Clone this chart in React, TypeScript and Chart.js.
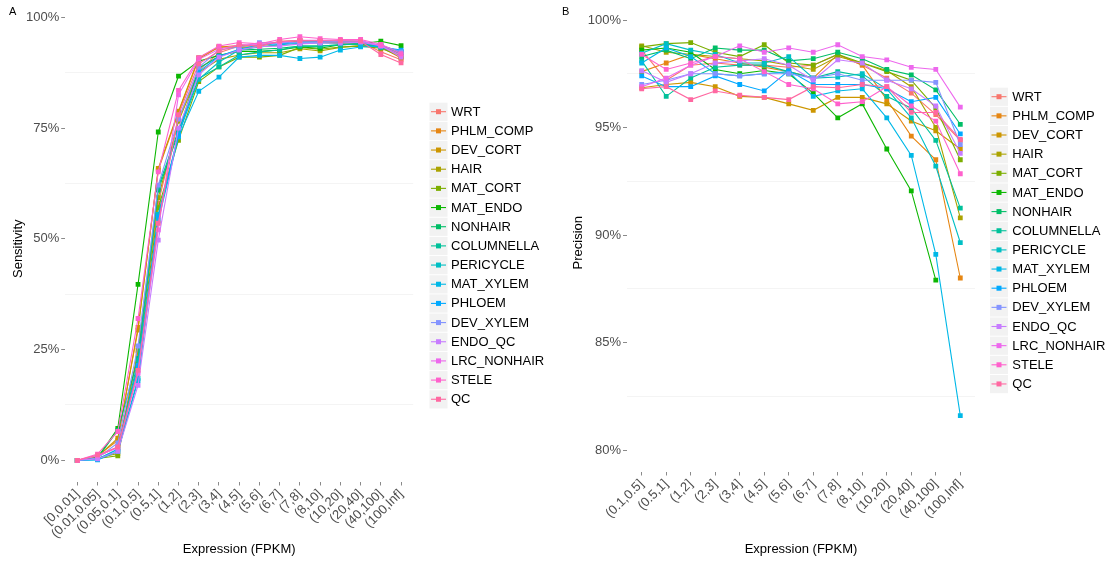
import React, { useEffect, useRef } from "react";
import { Chart, registerables } from "chart.js";

Chart.register(...registerables);

const FONT = "'Liberation Sans', Arial, Helvetica, sans-serif";

const seriesNames = ["WRT", "PHLM_COMP", "DEV_CORT", "HAIR", "MAT_CORT", "MAT_ENDO", "NONHAIR", "COLUMNELLA", "PERICYCLE", "MAT_XYLEM", "PHLOEM", "DEV_XYLEM", "ENDO_QC", "LRC_NONHAIR", "STELE", "QC"];
const seriesColors = ["#F8766D", "#E68613", "#CD9600", "#ABA300", "#7CAE00", "#0CB702", "#00BE67", "#00C19A", "#00BFC4", "#00B8E7", "#00A9FF", "#8494FF", "#C77CFF", "#ED68ED", "#FF61CC", "#FF68A1"];

// Panel A: Sensitivity
const sensCategories = ["[0,0.01]", "(0.01,0.05]", "(0.05,0.1]", "(0.1,0.5]", "(0.5,1]", "(1,2]", "(2,3]", "(3,4]", "(4,5]", "(5,6]", "(6,7]", "(7,8]", "(8,10]", "(10,20]", "(20,40]", "(40,100]", "(100,Inf]"];
const sensGrid = [0, 12.5, 25, 37.5, 50, 62.5, 75, 87.5, 100];
const sensLabeled = [0, 25, 50, 75, 100];

const sensWRT = [0, 0.8, 3.0, 24.0, 58.0, 77.0, 88.0, 92.0, 93.5, 93.8, 94.4, 94.6, 94.5, 94.4, 94.4, 92.2, 90.4];
const sensPHLM_COMP = [0, 1.0, 4.5, 30.0, 65.5, 78.5, 90.6, 93.3, 93.6, 93.5, 94.5, 94.8, 94.6, 94.3, 94.4, 93.3, 90.8];
const sensDEV_CORT = [0, 0.8, 5.0, 29.4, 65.9, 78.8, 90.9, 93.3, 93.2, 93.3, 93.8, 94.8, 94.4, 94.1, 94.2, 93.4, 91.0];
const sensHAIR = [0, 0.5, 1.5, 24.8, 59.3, 76.5, 87.5, 90.5, 91.5, 92.0, 92.0, 92.9, 92.4, 93.2, 93.6, 93.5, 91.5];
const sensMAT_CORT = [0, 0.4, 1.0, 22.0, 57.0, 72.2, 85.5, 88.8, 91.0, 91.0, 91.4, 93.2, 92.8, 93.3, 93.5, 93.0, 91.2];
const sensMAT_ENDO = [0, 0.6, 7.2, 39.7, 74.1, 86.7, 90.1, 91.4, 92.3, 92.3, 92.6, 93.3, 93.0, 93.8, 94.0, 94.6, 93.6];
const sensNONHAIR = [0, 0.5, 6.8, 23.0, 61.0, 74.0, 88.5, 91.2, 92.6, 92.8, 93.0, 93.5, 93.5, 93.8, 94.0, 93.6, 92.0];
const sensCOLUMNELLA = [0, 0.3, 2.5, 22.6, 61.7, 74.5, 86.2, 88.8, 91.5, 92.2, 92.6, 93.5, 93.5, 93.8, 93.9, 93.2, 91.7];
const sensPERICYCLE = [0, 0.2, 2.0, 18.5, 55.5, 73.5, 86.0, 89.9, 92.6, 93.3, 93.8, 94.1, 94.2, 94.2, 94.2, 93.4, 92.0];
const sensMAT_XYLEM = [0, 0.1, 2.0, 18.0, 54.0, 73.0, 83.3, 86.5, 91.0, 91.4, 91.4, 90.7, 91.0, 92.6, 93.3, 93.5, 92.3];
const sensPHLOEM = [0, 0.2, 2.5, 21.4, 55.0, 73.4, 87.7, 91.2, 92.8, 93.8, 94.0, 94.4, 94.5, 94.6, 94.6, 93.3, 92.6];
const sensDEV_XYLEM = [0, 0.5, 3.9, 25.8, 62.1, 77.0, 88.7, 92.6, 93.3, 94.3, 94.2, 94.4, 94.4, 94.6, 94.6, 93.7, 92.2];
const sensENDO_QC = [0, 0.3, 2.0, 16.9, 49.7, 75.0, 87.0, 91.0, 92.6, 93.4, 93.5, 94.0, 94.2, 94.2, 94.4, 93.6, 91.0];
const sensLRC_NONHAIR = [0, 1.0, 2.8, 19.6, 52.0, 82.5, 90.5, 92.8, 93.8, 93.8, 94.4, 94.8, 94.8, 94.8, 94.8, 93.5, 91.5];
const sensSTELE = [0, 1.4, 6.5, 32.0, 65.1, 83.5, 90.9, 93.5, 94.3, 94.0, 95.0, 95.6, 95.2, 95.0, 95.0, 93.9, 91.8];
const sensQC = [0, 1.2, 3.0, 20.3, 53.5, 78.0, 89.5, 92.4, 93.8, 93.5, 94.6, 94.7, 94.7, 94.7, 94.6, 91.6, 89.7];

// Panel B: Precision
const precCategories = ["(0.1,0.5]", "(0.5,1]", "(1,2]", "(2,3]", "(3,4]", "(4,5]", "(5,6]", "(6,7]", "(7,8]", "(8,10]", "(10,20]", "(20,40]", "(40,100]", "(100,Inf]"];
const precGrid = [80, 82.5, 85, 87.5, 90, 92.5, 95, 97.5, 100];
const precLabeled = [80, 85, 90, 95, 100];

const precWRT = [98.6, 97.2, 97.9, 98.0, 97.9, 97.9, 97.8, 97.9, 98.4, 97.9, 97.3, 96.6, 95.6, 94.4];
const precPHLM_COMP = [97.6, 98.0, 98.4, 98.2, 98.0, 97.8, 97.6, 97.3, 98.4, 97.9, 96.3, 94.6, 93.5, 88.0];
const precDEV_CORT = [96.85, 97.0, 97.1, 96.9, 96.45, 96.4, 96.1, 95.8, 96.4, 96.4, 96.1, 95.3, 94.85, 94.0];
const precHAIR = [98.8, 98.5, 98.4, 98.3, 98.2, 98.1, 97.9, 97.7, 98.3, 98.0, 97.65, 96.9, 95.0, 90.8];
const precMAT_CORT = [98.75, 98.9, 98.95, 98.5, 98.3, 98.85, 98.0, 97.9, 98.4, 98.0, 97.6, 97.2, 95.9, 93.5];
const precMAT_ENDO = [98.6, 98.7, 98.5, 97.7, 97.5, 97.65, 97.5, 96.6, 95.45, 96.1, 94.0, 92.05, 87.9, null];
const precNONHAIR = [98.3, 98.6, 98.2, 98.7, 98.6, 98.6, 98.1, 98.2, 98.5, 98.2, 97.7, 97.45, 96.75, 95.15];
const precCOLUMNELLA = [98.1, 96.45, 97.3, 97.8, 97.9, 97.9, 97.6, 97.3, 97.6, 97.4, 96.45, 95.9, 94.4, 91.25];
const precPERICYCLE = [98.45, 98.9, 98.6, 98.4, 98.0, 98.0, 98.3, 97.3, 97.35, 97.5, 96.8, 95.45, 93.2, 89.65];
const precMAT_XYLEM = [98.0, 98.7, 98.3, 97.5, 97.4, 97.5, 97.6, 96.45, 96.7, 96.8, 95.45, 93.7, 89.1, 81.6];
const precPHLOEM = [97.4, 96.9, 96.9, 97.4, 97.0, 96.7, 97.65, 97.0, 97.0, 97.0, 96.8, 96.2, 96.4, 94.7];
const precDEV_XYLEM = [97.0, 97.2, 97.5, 97.5, 97.4, 97.5, 97.5, 97.3, 97.5, 97.2, 97.2, 97.2, 97.1, 94.2];
const precENDO_QC = [97.65, 97.1, 97.5, 98.0, 98.1, 98.2, 97.9, 97.2, 98.15, 98.0, 97.2, 96.8, 96.0, 93.8];
const precLRC_NONHAIR = [96.9, 97.3, 97.9, 98.3, 98.8, 98.5, 98.7, 98.5, 98.85, 98.3, 98.15, 97.8, 97.7, 95.95];
const precSTELE = [98.4, 97.7, 98.0, 98.3, 98.2, 97.6, 97.0, 96.8, 96.1, 96.2, 96.9, 96.0, 95.3, 92.85];
const precQC = [96.8, 96.9, 96.3, 96.7, 96.5, 96.4, 96.3, 96.9, 96.85, 97.0, 96.9, 95.7, 95.7, 94.45];

const sensSeries = [sensWRT, sensPHLM_COMP, sensDEV_CORT, sensHAIR, sensMAT_CORT, sensMAT_ENDO, sensNONHAIR, sensCOLUMNELLA, sensPERICYCLE, sensMAT_XYLEM, sensPHLOEM, sensDEV_XYLEM, sensENDO_QC, sensLRC_NONHAIR, sensSTELE, sensQC];
const precSeries = [precWRT, precPHLM_COMP, precDEV_CORT, precHAIR, precMAT_CORT, precMAT_ENDO, precNONHAIR, precCOLUMNELLA, precPERICYCLE, precMAT_XYLEM, precPHLOEM, precDEV_XYLEM, precENDO_QC, precLRC_NONHAIR, precSTELE, precQC];

const ggLegend = {
  id: "ggLegend",
  afterDraw(chart: any, _args: any, opts: any) {
    const ctx = chart.ctx;
    ctx.save();
    const n = chart.data.datasets.length;
    for (let i = 0; i < n; i++) {
      const ds = chart.data.datasets[i];
      const cy = opts.firstY + i * opts.step;
      ctx.fillStyle = "#f2f2f2";
      ctx.fillRect(opts.keyX - 9, cy - 9, 18, 18.2);
      ctx.strokeStyle = ds.borderColor;
      ctx.lineWidth = 1.1;
      ctx.beginPath();
      ctx.moveTo(opts.keyX - 7.5, cy);
      ctx.lineTo(opts.keyX + 7.5, cy);
      ctx.stroke();
      ctx.fillStyle = ds.borderColor;
      ctx.fillRect(opts.keyX - 2.5, cy - 2.5, 5, 5);
      ctx.fillStyle = "#000";
      ctx.font = "13px " + FONT;
      ctx.textAlign = "left";
      ctx.textBaseline = "middle";
      ctx.fillText(ds.label, opts.textX, cy + 0.5);
    }
    ctx.font = "11px " + FONT;
    ctx.fillStyle = "#000";
    ctx.textAlign = "left";
    ctx.textBaseline = "middle";
    ctx.fillText(opts.panel, opts.panelX, opts.panelY);
    ctx.restore();
  },
};

type PanelProps = {
  width: number;
  left: number;
  categories: string[];
  series: (number | null)[][];
  grid: number[];
  labeled: number[];
  yMin: number;
  yMax: number;
  yTitle: string;
  axisWidth: number;
  padTop: number;
  padRight: number;
  xAxisHeight: number;
  legend: any;
};

function Panel(p: PanelProps) {
  const ref = useRef<HTMLCanvasElement | null>(null);
  useEffect(() => {
    if (!ref.current) return;
    const n = p.categories.length;
    const datasets = seriesNames.map((name, si) => ({
      label: name,
      data: p.series[si].map((v, i) => ({ x: i, y: v })),
      borderColor: seriesColors[si],
      backgroundColor: seriesColors[si],
      borderWidth: 1.1,
      pointStyle: "rect",
      pointRadius: 3.4,
      pointBorderWidth: 0,
      pointHoverRadius: 3.4,
      tension: 0,
      spanGaps: false,
      order: seriesNames.length - si,
    }));
    const chart = new Chart(ref.current, {
      type: "line",
      data: { datasets } as any,
      plugins: [ggLegend],
      options: {
        animation: false,
        responsive: false,
        devicePixelRatio: 1,
        events: [],
        layout: { padding: { left: 0, top: p.padTop, right: p.padRight, bottom: 0 } },
        plugins: {
          legend: { display: false },
          tooltip: { enabled: false },
          ggLegend: p.legend,
        } as any,
        scales: {
          x: {
            type: "linear",
            min: -0.6,
            max: n - 1 + 0.6,
            afterBuildTicks: (s: any) => {
              s.ticks = p.categories.map((_, i) => ({ value: i }));
            },
            afterFit: (s: any) => {
              s.height = p.xAxisHeight;
            },
            border: { display: false },
            grid: { color: "rgba(0,0,0,0)", tickColor: "#8a8a8a", tickLength: 4, lineWidth: 1 },
            ticks: {
              autoSkip: false,
              minRotation: 45,
              maxRotation: 45,
              padding: 1,
              color: "#4d4d4d",
              font: { family: FONT, size: 13 },
              callback: (v: any) => p.categories[Math.round(Number(v))] ?? "",
            },
            title: {
              display: true,
              text: "Expression (FPKM)",
              color: "#000",
              font: { family: FONT, size: 13 },
              padding: { top: 0, bottom: 6 },
            },
          },
          y: {
            type: "linear",
            min: p.yMin,
            max: p.yMax,
            afterBuildTicks: (s: any) => {
              s.ticks = p.grid.map((v) => ({ value: v }));
            },
            afterFit: (s: any) => {
              s.width = p.axisWidth;
            },
            border: { display: false },
            grid: {
              color: (c: any) => (c.tick && p.labeled.includes(c.tick.value) ? "rgba(0,0,0,0)" : "#f4f4f4"),
              tickColor: (c: any) => (c.tick && p.labeled.includes(c.tick.value) ? "#8a8a8a" : "rgba(0,0,0,0)"),
              tickLength: 4,
              lineWidth: 1,
            },
            ticks: {
              autoSkip: false,
              padding: 2,
              color: "#4d4d4d",
              font: { family: FONT, size: 13 },
              callback: (v: any) => (p.labeled.includes(Number(v)) ? v + "%" : ""),
            },
            title: {
              display: true,
              text: p.yTitle,
              color: "#000",
              font: { family: FONT, size: 13 },
              padding: { top: 10.5, bottom: 0 },
            },
          },
        },
      } as any,
    });
    return () => chart.destroy();
  }, []);
  return (
    <canvas
      ref={ref}
      width={p.width}
      height={563}
      style={{ position: "absolute", left: p.left, top: 0, width: p.width, height: 563 }}
    />
  );
}

export default function App() {
  return (
    <div style={{ position: "absolute", left: 0, top: 0, width: 1114, height: 563, background: "#fff", overflow: "hidden" }}>
      <Panel
        width={560}
        left={0}
        categories={sensCategories}
        series={sensSeries}
        grid={sensGrid}
        labeled={sensLabeled}
        yMin={-4.79}
        yMax={100.29}
        yTitle="Sensitivity"
        axisWidth={65.2}
        padTop={16}
        padRight={560 - 413.2}
        xAxisHeight={563 - 481.5}
        legend={{ keyX: 438.5, textX: 451, firstY: 111.7, step: 19.17, panel: "A", panelX: 9, panelY: 12 }}
      />
      <Panel
        width={554}
        left={560}
        categories={precCategories}
        series={precSeries}
        grid={precGrid}
        labeled={precLabeled}
        yMin={79.0}
        yMax={100.28}
        yTitle="Precision"
        axisWidth={67}
        padTop={14}
        padRight={554 - 415}
        xAxisHeight={563 - 471.5}
        legend={{ keyX: 439, textX: 452.3, firstY: 96.7, step: 19.15, panel: "B", panelX: 2, panelY: 12 }}
      />
    </div>
  );
}
